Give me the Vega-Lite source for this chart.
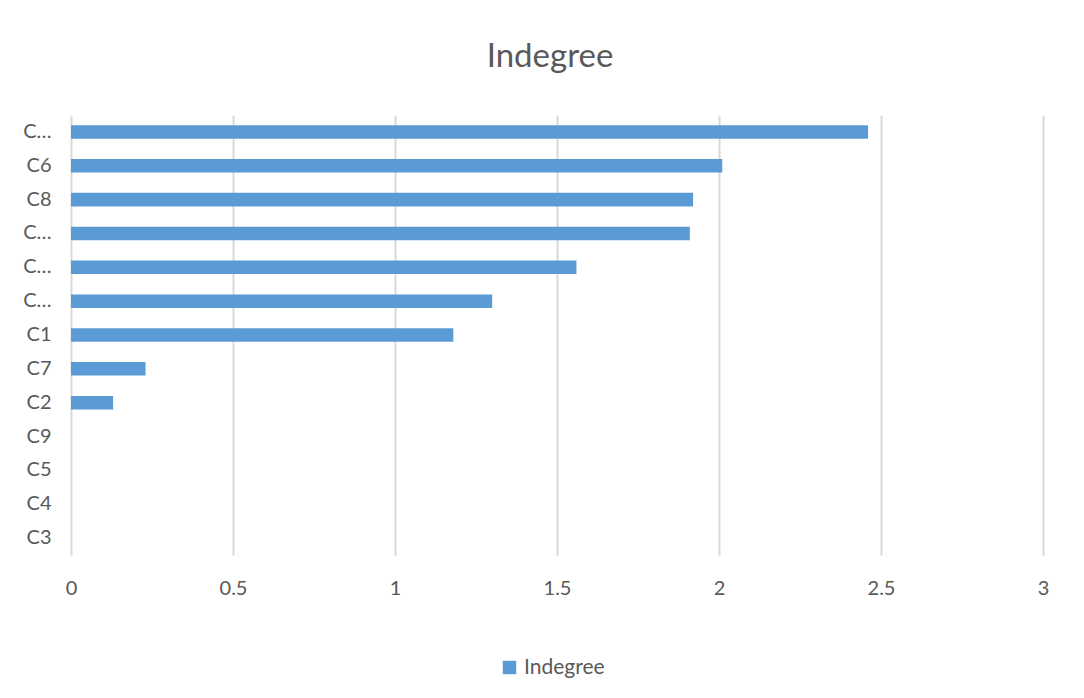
{
  "$schema": "https://vega.github.io/schema/vega-lite/v6.json",
  "autosize": {"type": "none"},
  "padding": {"left": 71, "top": 115, "right": 41, "bottom": 143},
  "width": 972,
  "height": 440,
  "background": "#ffffff",
  "title": {
    "text": "Indegree",
    "anchor": "middle",
    "frame": "group",
    "orient": "top",
    "baseline": "alphabetic",
    "offset": 15,
    "dx": -7,
    "font": "Lato",
    "fontSize": 33,
    "fontWeight": "normal",
    "color": "#595959"
  },
  "data": {
    "values": [
      {"node": "C10", "indegree": 2.46},
      {"node": "C6", "indegree": 2.01},
      {"node": "C8", "indegree": 1.92},
      {"node": "C13", "indegree": 1.91},
      {"node": "C12", "indegree": 1.56},
      {"node": "C11", "indegree": 1.3},
      {"node": "C1", "indegree": 1.18},
      {"node": "C7", "indegree": 0.23},
      {"node": "C2", "indegree": 0.13},
      {"node": "C9", "indegree": 0},
      {"node": "C5", "indegree": 0},
      {"node": "C4", "indegree": 0},
      {"node": "C3", "indegree": 0}
    ]
  },
  "mark": {"type": "bar", "color": "#5B9BD5"},
  "encoding": {
    "y": {
      "field": "node",
      "type": "nominal",
      "sort": ["C10", "C6", "C8", "C13", "C12", "C11", "C1", "C7", "C2", "C9", "C5", "C4", "C3"],
      "scale": {"paddingInner": 0.6, "paddingOuter": 0.3},
      "axis": {
        "title": null,
        "domain": false,
        "ticks": false,
        "tickSize": 0,
        "grid": false,
        "labelPadding": 20,
        "labelFont": "Lato",
        "labelFontSize": 20,
        "labelColor": "#595959",
        "labelExpr": "length(datum.label) > 2 ? 'C…' : datum.label"
      }
    },
    "x": {
      "field": "indegree",
      "type": "quantitative",
      "scale": {"domain": [0, 3], "nice": false, "zero": true},
      "axis": {
        "title": null,
        "values": [0, 0.5, 1, 1.5, 2, 2.5, 3],
        "format": "~g",
        "domain": false,
        "ticks": false,
        "tickSize": 0,
        "grid": true,
        "gridColor": "#d9d9d9",
        "gridWidth": 2,
        "labelPadding": 23,
        "labelFont": "Lato",
        "labelFontSize": 20,
        "labelColor": "#595959",
        "labelFlush": false
      }
    },
    "color": {
      "datum": "Indegree",
      "type": "nominal",
      "scale": {"range": ["#5B9BD5"]},
      "legend": {
        "title": null,
        "orient": "none",
        "legendX": 428,
        "legendY": 542,
        "padding": 0,
        "symbolType": "square",
        "symbolSize": 180,
        "symbolStrokeWidth": 0,
        "labelFont": "Lato",
        "labelFontSize": 21,
        "labelColor": "#595959",
        "labelOffset": 4
      }
    }
  },
  "config": {
    "view": {"stroke": null}
  }
}
